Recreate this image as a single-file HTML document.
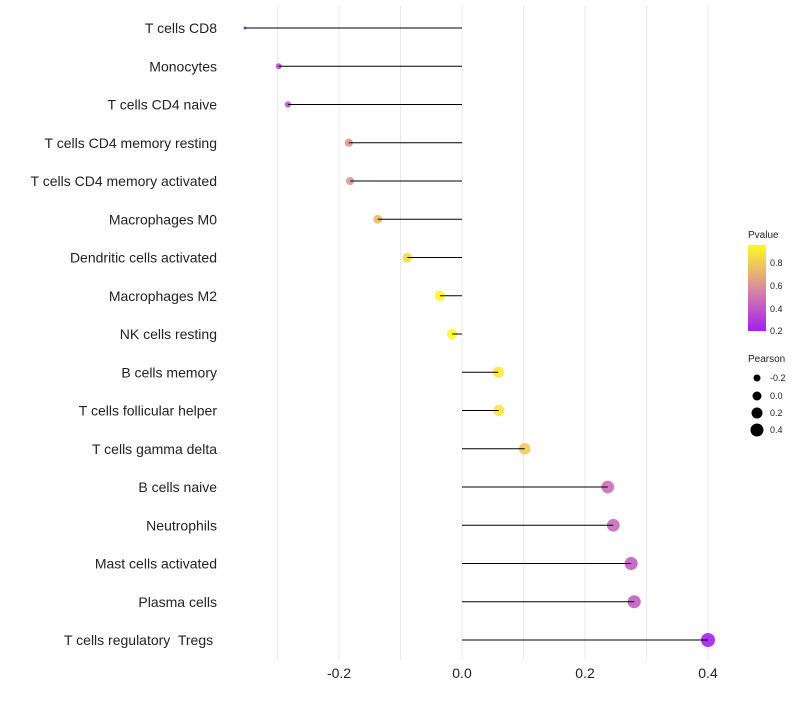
<!DOCTYPE html>
<html><head><meta charset="utf-8"><style>
body{margin:0;background:#fff;font-family:"Liberation Sans",sans-serif}
text{white-space:pre}
</style></head><body>
<svg id="chart" width="800" height="700" xmlns="http://www.w3.org/2000/svg">
<defs><linearGradient id="pg" x1="0" y1="1" x2="0" y2="0">
<stop offset="0" stop-color="#a21ff0"/><stop offset="0.5" stop-color="#d98ca0"/><stop offset="1" stop-color="#fffa1e"/>
</linearGradient></defs>
<g id="grid"></g><g id="marks"></g><g id="labels"></g>
<g font-size="9" fill="#222">
<text x="748" y="238" font-size="10">Pvalue</text>
<rect x="748" y="245" width="18" height="86" fill="url(#pg)"/>
<text x="770" y="334">0.2</text><text x="770" y="312">0.4</text><text x="770" y="289">0.6</text><text x="770" y="266">0.8</text>
</g>
<g font-size="9" fill="#222">
<text x="748" y="362" font-size="10">Pearson</text>
<circle cx="757" cy="378" r="3.5" fill="#000"/><text x="770" y="381">-0.2</text>
<circle cx="757" cy="396" r="4.5" fill="#000"/><text x="770" y="399">0.0</text>
<circle cx="757" cy="413" r="5.5" fill="#000"/><text x="770" y="416">0.2</text>
<circle cx="757" cy="430" r="6.5" fill="#000"/><text x="770" y="433">0.4</text>
</g>
</svg>
<script>
const categories=["T cells CD8","Monocytes","T cells CD4 naive","T cells CD4 memory resting","T cells CD4 memory activated","Macrophages M0","Dendritic cells activated","Macrophages M2","NK cells resting","B cells memory","T cells follicular helper","T cells gamma delta","B cells naive","Neutrophils","Mast cells activated","Plasma cells","T cells regulatory  Tregs "];
const pearson=[-0.353,-0.298,-0.283,-0.184,-0.182,-0.137,-0.089,-0.036,-0.016,0.059,0.060,0.102,0.237,0.246,0.275,0.280,0.400];
const pvalue=[0.25,0.36,0.38,0.62,0.62,0.75,0.85,0.95,0.96,0.9,0.9,0.8,0.48,0.47,0.42,0.42,0.2];
const xTicks=[-0.2,0.0,0.2,0.4];
const NS="http://www.w3.org/2000/svg";
const x=v=>462+v*615;
const y=i=>28+i*38.25;
const r=v=>1.5+5.5*Math.sqrt(Math.max(0,(v+0.353)/0.753));
function lerp(a,b,t){return a.map((c,k)=>Math.round(c+(b[k]-c)*t));}
function col(p){const t=Math.min(1,Math.max(0,(p-0.2)/0.76));const lo=[162,31,240],mid=[217,140,160],hi=[255,250,30];
const c=t<0.5?lerp(lo,mid,t/0.5):lerp(mid,hi,(t-0.5)/0.5);return `rgb(${c})`;}
function mk(tag,at,parent){const e=document.createElementNS(NS,tag);for(const k in at)e.setAttribute(k,at[k]);parent.appendChild(e);return e;}
const grid=document.getElementById('grid'),marks=document.getElementById('marks'),labels=document.getElementById('labels');
for(let v=-0.3;v<=0.41;v+=0.1){const l=mk('line',{x1:x(v),x2:x(v),y1:5,y2:660,stroke:'#ebebeb','stroke-width':1},grid);

}
xTicks.forEach(v=>{const t=mk('text',{x:x(v),y:678,'text-anchor':'middle','font-size':14,fill:'#222'},labels);t.textContent=v.toFixed(1);

});
categories.forEach((c,i)=>{const t=mk('text',{x:217,y:y(i)+5,'text-anchor':'end','font-size':14,fill:'#222'},labels);t.textContent=c;


const d=mk('circle',{cx:x(pearson[i]),cy:y(i),r:r(pearson[i]),fill:col(pvalue[i]),'fill-opacity':0.9},marks);


const l=mk('line',{x1:x(0),x2:x(pearson[i]),y1:y(i),y2:y(i),stroke:'#000','stroke-width':1},marks);

});
</script>
</body></html>
